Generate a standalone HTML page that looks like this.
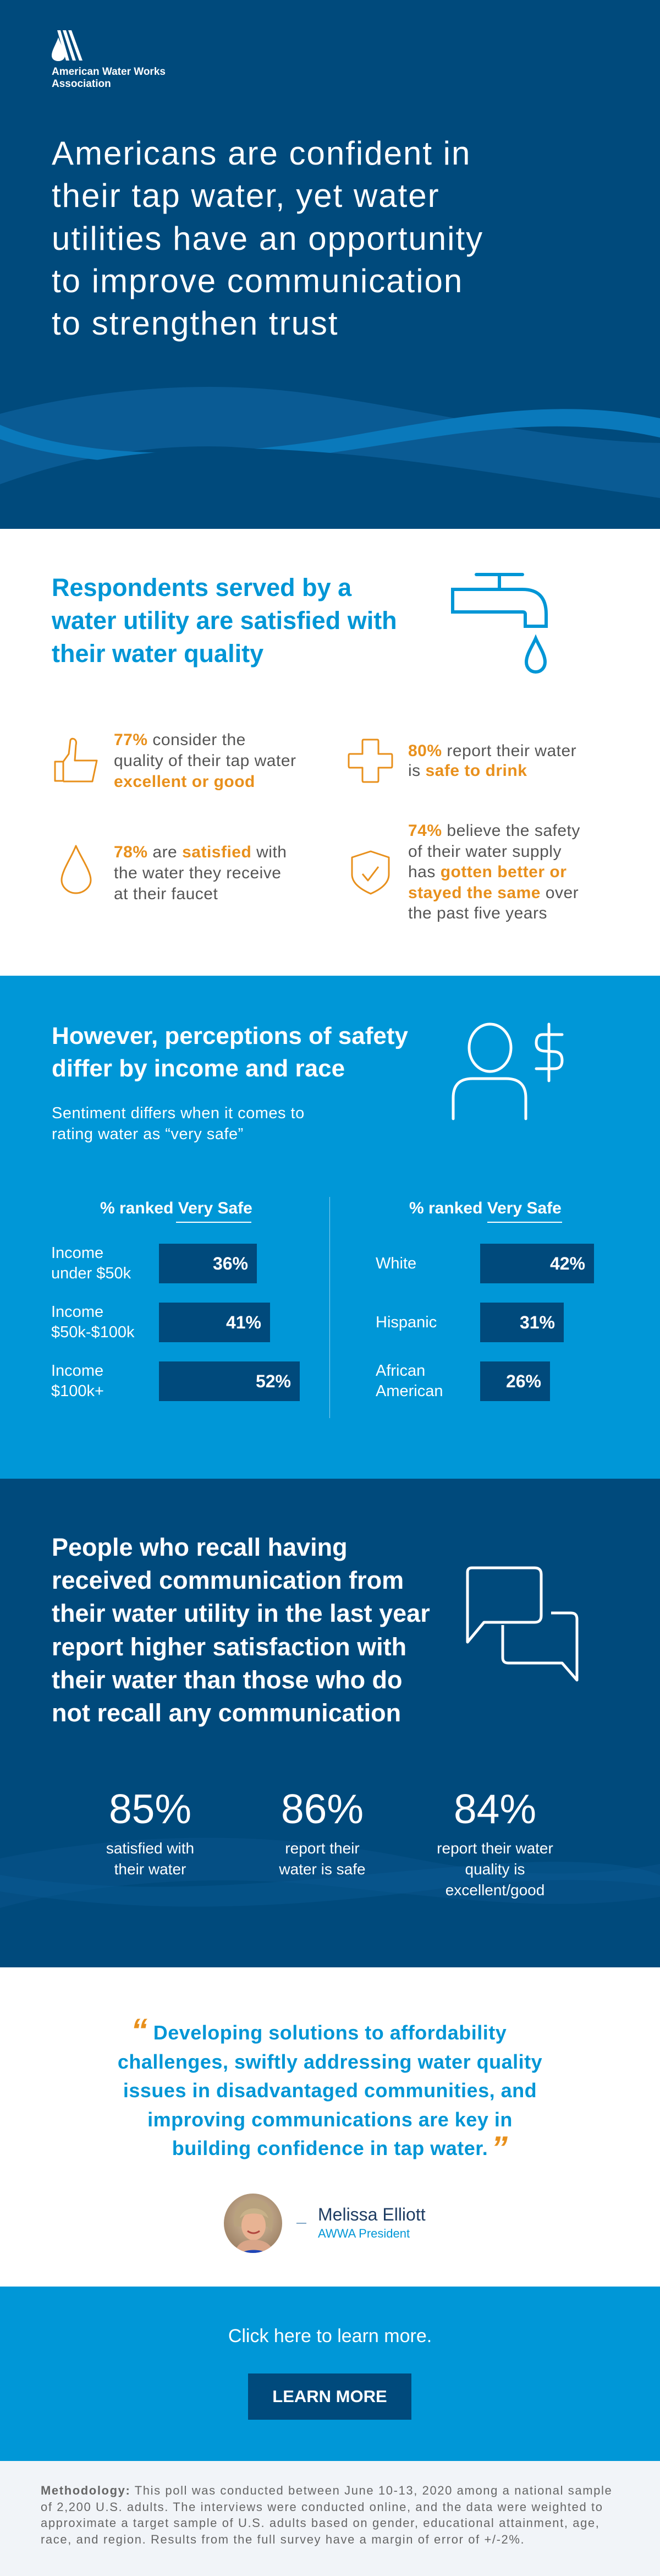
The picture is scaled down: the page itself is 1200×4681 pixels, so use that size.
<!DOCTYPE html>
<html><head><meta charset="utf-8"><style>
*{margin:0;padding:0;box-sizing:border-box}
body{width:1200px;height:4681px;position:relative;font-family:"Liberation Sans",sans-serif;overflow:hidden;background:#fff}
.a{position:absolute;white-space:nowrap;line-height:1}
.sec{position:absolute;left:0;width:1200px}
.w{color:#fff}
.o{color:#e8901c;font-weight:bold}
.bar{position:absolute;height:72px;background:#004a7c;color:#fff;font-weight:bold;font-size:32px;text-align:right;padding-right:16px;line-height:72px}
.lbl{position:absolute;color:#fff;font-size:29px;line-height:37px;white-space:nowrap}
.ctr{position:absolute;left:0;width:1200px;text-align:center;white-space:nowrap;line-height:1}
</style></head><body>

<!-- HEADER -->
<div class="sec" style="top:0;height:961px;background:#004a7c;overflow:hidden">
<svg width="1200" height="961" style="position:absolute;left:0;top:0">
<path d="M0,752 C180,705 380,690 560,715 C780,745 980,800 1200,805 L1200,905 C980,880 700,830 420,812 C250,805 110,840 0,880 Z" fill="#0b5d97" opacity="0.9"/>
<path d="M0,772 C150,835 380,835 620,795 C820,760 1000,720 1200,760 L1200,795 C1000,750 820,790 620,820 C380,858 150,850 0,798 Z" fill="#0a79bb"/>
<path d="M0,880 C130,835 280,815 450,815 C700,820 950,870 1200,905 L1200,961 L0,961 Z" fill="#004a7c"/>
<path d="M106,68 C101,82 94,92 94,101 C94,107 99,111 106,111 C113,111 118,107 118,101 C118,92 111,82 106,68 Z" fill="#fff"/>
<polygon points="104,55 110,55 126,110 120,110" fill="#fff"/>
<polygon points="114,55 120,55 138,110 132,110" fill="#fff"/>
<polygon points="124,55 130,55 150,110 144,110" fill="#fff"/>
</svg>
<div class="a w" style="left:94px;top:121px;font-size:19px;font-weight:bold">American Water Works</div>
<div class="a w" style="left:94px;top:143px;font-size:19px;font-weight:bold">Association</div>
<div class="a w" style="left:94px;top:249px;font-size:60px;letter-spacing:2px">Americans are confident in</div>
<div class="a w" style="left:94px;top:326px;font-size:60px;letter-spacing:2px">their tap water, yet water</div>
<div class="a w" style="left:94px;top:404px;font-size:60px;letter-spacing:2px">utilities have an opportunity</div>
<div class="a w" style="left:94px;top:481px;font-size:60px;letter-spacing:2px">to improve communication</div>
<div class="a w" style="left:94px;top:558px;font-size:60px;letter-spacing:2px">to strengthen trust</div>
</div>

<!-- SECTION 2 -->
<div class="a" style="left:94px;top:1045px;font-size:45px;font-weight:bold;color:#0096d6">Respondents served by a</div>
<div class="a" style="left:94px;top:1105px;font-size:45px;font-weight:bold;color:#0096d6">water utility are satisfied with</div>
<div class="a" style="left:94px;top:1165px;font-size:45px;font-weight:bold;color:#0096d6">their water quality</div>
<svg width="1200" height="820" style="position:absolute;left:0;top:961px" fill="none">
<g stroke="#0096d6" stroke-width="6">
<line x1="866" y1="83" x2="950" y2="83" stroke-linecap="round"/>
<line x1="908" y1="83" x2="908" y2="110"/>
<path d="M823,110 L950,110 Q993,110 993,155 L993,177 L955,177 L955,155 Q955,151 950,151 L823,151 Z"/>
<path d="M974,199 C968,213 957,228 957,242 C957,253 965,260 974,260 C983,260 991,253 991,242 C991,228 980,213 974,199 Z"/>
</g>
<g stroke="#e8901c" stroke-width="3" stroke-linejoin="round">
<path d="M100,423 L100,458 L115,458 L115,423 Z"/>
<path d="M115,423 L125,409 L128,384 Q130,380 135,382 Q140,385 138,393 L136,421 L176,421 L168,459 L115,459"/>
<path d="M661,383 L686,383 Q688,383 688,386 L688,409 L711,409 Q713,409 713,412 L713,431 Q713,434 711,434 L688,434 L688,457 Q688,460 686,460 L661,460 Q659,460 659,457 L659,434 L636,434 Q634,434 634,431 L634,412 Q634,409 636,409 L659,409 L659,386 Q659,383 661,383 Z"/>
<path d="M138,586 C130,607 112,632 112,648 C112,661 124,672 138,672 C152,672 165,661 165,648 C165,632 147,607 138,586 Z" transform="translate(0,-10)"/>
<path d="M674,586 L707,597 L707,628 C707,645 690,656 674,663 C658,656 640,645 640,628 L640,597 Z"/>
<path d="M659,627 L669,639 L688,614"/>
</g>
</svg>
<div class="a" style="left:207px;top:1326px;font-size:30px;line-height:38px;color:#555;letter-spacing:0.5px"><span class="o">77%</span> consider the<br>quality of their tap water<br><span class="o">excellent or good</span></div>
<div class="a" style="left:742px;top:1347px;font-size:30px;line-height:36px;color:#555;letter-spacing:0.5px"><span class="o">80%</span> report their water<br>is <span class="o">safe to drink</span></div>
<div class="a" style="left:207px;top:1530px;font-size:30px;line-height:38px;color:#555;letter-spacing:0.5px"><span class="o">78%</span> are <span class="o">satisfied</span> with<br>the water they receive<br>at their faucet</div>
<div class="a" style="left:742px;top:1491px;font-size:30px;line-height:37.5px;color:#555;letter-spacing:0.5px"><span class="o">74%</span> believe the safety<br>of their water supply<br>has <span class="o">gotten better or</span><br><span class="o">stayed the same</span> over<br>the past five years</div>

<!-- SECTION 3 -->
<div class="sec" style="top:1773px;height:914px;background:#0097d7"></div>
<div class="a w" style="left:94px;top:1861px;font-size:44px;font-weight:bold">However, perceptions of safety</div>
<div class="a w" style="left:94px;top:1920px;font-size:44px;font-weight:bold">differ by income and race</div>
<div class="a w" style="left:94px;top:2009px;font-size:29px;letter-spacing:0.5px">Sentiment differs when it comes to</div>
<div class="a w" style="left:94px;top:2047px;font-size:29px;letter-spacing:0.5px">rating water as “very safe”</div>
<svg width="1200" height="300" style="position:absolute;left:0;top:1840px" fill="none" stroke="#fff" stroke-width="5" stroke-linecap="round">
<ellipse cx="891" cy="64" rx="38" ry="43"/>
<path d="M824,193 L824,155 Q824,120 859,120 L920,120 Q956,120 956,155 L956,193"/>
<line x1="998" y1="21" x2="998" y2="124"/>
<path d="M1022,40 L987,40 Q975,40 975,55 Q975,69 990,70 L1008,71 Q1022,72 1022,87 Q1022,102 1008,102 L975,102"/>
</svg>
<div class="a w" style="left:182px;top:2181px;font-size:30px;font-weight:bold">% ranked Very Safe</div>
<div style="position:absolute;left:320px;top:2220px;width:137px;height:2px;background:#fff"></div>
<div class="a w" style="left:744px;top:2181px;font-size:30px;font-weight:bold">% ranked Very Safe</div>
<div style="position:absolute;left:886px;top:2220px;width:136px;height:2px;background:#fff"></div>
<div style="position:absolute;left:599px;top:2175px;width:1px;height:402px;background:rgba(255,255,255,.55)"></div>
<div class="bar" style="left:289px;top:2260px;width:178px">36%</div>
<div class="bar" style="left:289px;top:2367px;width:202px">41%</div>
<div class="bar" style="left:289px;top:2474px;width:256px">52%</div>
<div class="bar" style="left:873px;top:2260px;width:207px">42%</div>
<div class="bar" style="left:873px;top:2367px;width:152px">31%</div>
<div class="bar" style="left:873px;top:2474px;width:127px">26%</div>
<div class="lbl" style="left:93px;top:2259px">Income<br>under $50k</div>
<div class="lbl" style="left:93px;top:2366px">Income<br>$50k-$100k</div>
<div class="lbl" style="left:93px;top:2473px">Income<br>$100k+</div>
<div class="lbl" style="left:683px;top:2278px">White</div>
<div class="lbl" style="left:683px;top:2385px">Hispanic</div>
<div class="lbl" style="left:683px;top:2473px">African<br>American</div>

<!-- SECTION 4 -->
<div class="sec" style="top:2687px;height:888px;background:#004a7c;overflow:hidden">
<svg width="1200" height="888" style="position:absolute;left:0;top:0">
<path d="M0,690 C250,640 500,640 750,690 C950,730 1100,720 1200,700 L1200,760 C1000,790 800,760 600,740 C350,715 150,740 0,780 Z" fill="#0a548b" opacity="0.5"/>
<path d="M0,720 C300,770 600,720 900,700 C1050,690 1150,700 1200,720 L1200,740 C1100,725 950,725 800,745 C500,785 250,790 0,750 Z" fill="#0b5d97" opacity="0.4"/>
</svg>
</div>
<div class="a w" style="left:94px;top:2782px;font-size:45px;font-weight:bold;line-height:60.2px">People who recall having<br>received communication from<br>their water utility in the last year<br>report higher satisfaction with<br>their water than those who do<br>not recall any communication</div>
<svg width="1200" height="220" style="position:absolute;left:0;top:2840px" fill="none" stroke="#fff" stroke-width="5" stroke-linejoin="round">
<path d="M858,9 L972,9 Q984,9 984,21 L984,96 Q984,108 972,108 L880,108 L850,144 L850,17 Q850,9 858,9 Z"/>
<path d="M1002,91 L1038,91 Q1049,91 1049,102 L1049,213 L1022,182 L924,182 Q914,182 914,172 L914,113"/>
</svg>
<div class="a w" style="left:173px;width:200px;text-align:center;top:3250px;font-size:75px">85%</div>
<div class="a w" style="left:486px;width:200px;text-align:center;top:3250px;font-size:75px">86%</div>
<div class="a w" style="left:800px;width:200px;text-align:center;top:3250px;font-size:75px">84%</div>
<div class="a w" style="left:123px;width:300px;text-align:center;top:3340px;font-size:28px;line-height:38px">satisfied with<br>their water</div>
<div class="a w" style="left:436px;width:300px;text-align:center;top:3340px;font-size:28px;line-height:38px">report their<br>water is safe</div>
<div class="a w" style="left:750px;width:300px;text-align:center;top:3340px;font-size:28px;line-height:38px">report their water<br>quality is<br>excellent/good</div>

<!-- SECTION 5 -->
<div class="ctr" style="top:3676px;font-size:36px;font-weight:bold;color:#0096d6;letter-spacing:0.5px">Developing solutions to affordability</div>
<div class="ctr" style="top:3729px;font-size:36px;font-weight:bold;color:#0096d6;letter-spacing:0.5px">challenges, swiftly addressing water quality</div>
<div class="ctr" style="top:3781px;font-size:36px;font-weight:bold;color:#0096d6;letter-spacing:0.5px">issues in disadvantaged communities, and</div>
<div class="ctr" style="top:3834px;font-size:36px;font-weight:bold;color:#0096d6;letter-spacing:0.5px">improving communications are key in</div>
<div class="ctr" style="top:3886px;font-size:36px;font-weight:bold;color:#0096d6;letter-spacing:0.5px">building confidence in tap water.</div>
<div class="a" style="left:238px;top:3660px;font-size:60px;font-weight:bold;color:#e8901c;font-style:italic">“</div>
<div class="a" style="left:893px;top:3874px;font-size:60px;font-weight:bold;color:#e8901c;font-style:italic">”</div>
<svg width="110" height="110" style="position:absolute;left:406px;top:3986px">
<defs><clipPath id="c"><ellipse cx="54" cy="54" rx="53" ry="54"/></clipPath>
<radialGradient id="bg" cx="50%" cy="40%" r="60%"><stop offset="0" stop-color="#d9c2a4"/><stop offset="1" stop-color="#9c8064"/></radialGradient></defs>
<g clip-path="url(#c)">
<rect width="110" height="110" fill="url(#bg)"/>
<path d="M20,60 C15,20 40,8 58,10 C85,12 95,35 88,70 L80,60 L30,60 Z" fill="#b9a27e"/>
<ellipse cx="55" cy="58" rx="22" ry="27" fill="#e8b393"/>
<path d="M30,45 C35,22 75,20 82,45 C70,35 45,32 30,45 Z" fill="#c8b189"/>
<path d="M44,68 Q55,76 66,68" stroke="#b0463e" stroke-width="3" fill="none"/>
<path d="M20,110 C25,88 40,84 55,84 C72,84 88,90 92,110 Z" fill="#d9a588"/>
<path d="M30,110 C40,100 70,100 82,110 Z" fill="#1f46b8"/>
</g></svg>
<div style="position:absolute;left:539px;top:4039px;width:18px;height:2px;background:#7fa6c6"></div>
<div class="a" style="left:578px;top:4008px;font-size:32px;color:#1f3d63">Melissa Elliott</div>
<div class="a" style="left:578px;top:4048px;font-size:22px;color:#0096d6">AWWA President</div>

<!-- SECTION 6 -->
<div class="sec" style="top:4155px;height:317px;background:#0097d7"></div>
<div class="ctr w" style="top:4228px;font-size:34px">Click here to learn more.</div>
<div style="position:absolute;left:451px;top:4313px;width:297px;height:84px;background:#004a7c;color:#fff;font-weight:bold;font-size:31px;text-align:center;line-height:84px">LEARN MORE</div>

<!-- SECTION 7 -->
<div class="sec" style="top:4472px;height:209px;background:#f1f4f8"></div>
<div class="a" style="left:74px;top:4511px;font-size:22px;line-height:29.7px;color:#666;letter-spacing:1.6px"><b>Methodology:</b> This poll was conducted between June 10-13, 2020 among a national sample<br>of 2,200 U.S. adults. The interviews were conducted online, and the data were weighted to<br>approximate a target sample of U.S. adults based on gender, educational attainment, age,<br>race, and region. Results from the full survey have a margin of error of +/-2%.</div>

</body></html>
